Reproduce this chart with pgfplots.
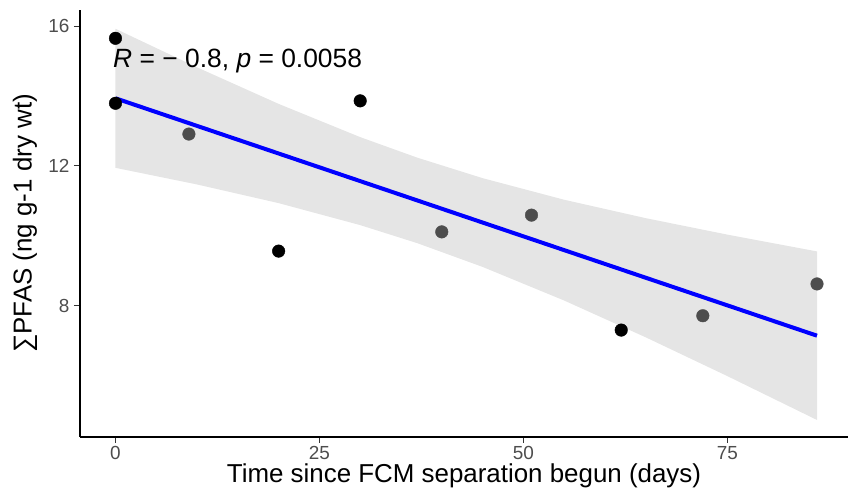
\documentclass[border=0pt]{standalone}
\usepackage{pgfplots}
\pgfplotsset{compat=1.18}
\usepackage{fontspec}
\setmainfont{Liberation Sans}
\usetikzlibrary{calc}
\definecolor{ribbon}{HTML}{E5E5E5}
\definecolor{pt}{HTML}{4D4D4D}
\definecolor{tickc}{HTML}{333333}
\definecolor{ticklab}{HTML}{4D4D4D}
\begin{document}
\begin{tikzpicture}
\begin{axis}[
  scale only axis,
  width=768bp, height=427bp,
  xmin=-4.35, xmax=89.8, ymin=4.24, ymax=16.46,
  axis lines=left,
  axis line style={-, line width=1.3bp, black},
  xtick={0,25,50,75}, ytick={8,12,16},
  tick align=outside,
  major tick length=6bp,
  tick style={tickc, line width=1bp},
  tick label style={font=\fontsize{19}{19}\selectfont, text=ticklab},
  yticklabel style={xshift=-1bp},
  /pgf/number format/assume math mode=true,
  xlabel={Time since FCM separation begun (days)},
  ylabel={∑PFAS (ng g-1 dry wt)},
  label style={font=\fontsize{26}{26}\selectfont},
  xlabel style={at={(axis description cs:0.5,0)}, anchor=base, yshift=-46bp},
  ylabel style={at={(axis description cs:0,0.5)}, rotate=0, anchor=base, yshift=48.4bp},
  clip=false,
]
\addplot[fill=ribbon, draw=none] coordinates {
(0,11.943) (10,11.467) (20,10.933) (30,10.304) (37,9.787) (45,9.108) (55,8.146) (65,7.093) (75,5.984) (86,4.727)
(86,9.551) (75,10.032) (65,10.503) (55,11.030) (45,11.648) (37,12.234) (30,12.822) (20,13.773) (10,14.819) (0,15.923)
} -- cycle;
\addplot[blue, line width=4bp] coordinates {(0,13.933) (86,7.139)};
\addplot[only marks, mark=*, mark size=6.3bp, black, mark options={draw=black, fill=black}] coordinates {
(0,15.65) (0,13.79) (20,9.56) (30,13.86) (62,7.30)
};
\addplot[only marks, mark=*, mark size=6.3bp, pt, mark options={draw=pt, fill=pt}] coordinates {
(9,12.91) (40,10.11) (51,10.59) (72,7.71) (86,8.62)
};
\node[anchor=west, font=\fontsize{26.5}{26.5}\selectfont, inner sep=0pt] at (axis cs:-0.3,15.0) {\textit{R} = − 0.8, \textit{p} = 0.0058};
\end{axis}
\path ($(current axis.south west)+(-80bp,-66bp)$) rectangle ($(current axis.north east)+(1bp,10bp)$);
\end{tikzpicture}
\end{document}
